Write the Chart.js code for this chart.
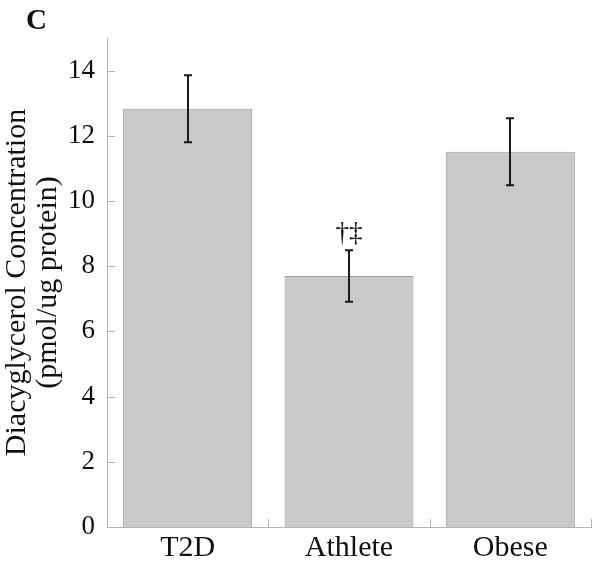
<!DOCTYPE html>
<html>
<head>
<meta charset="utf-8">
<script src="https://cdn.jsdelivr.net/npm/chart.js@4/dist/chart.umd.min.js"></script>
<style>
  html, body { margin: 0; padding: 0; background: #fff; }
</style>
</head>
<body>
<canvas id="chart" width="600" height="566"></canvas>
<script>
// data
const groups = ['T2D', 'Athlete', 'Obese'];
const dagValues = [12.83, 7.70, 11.51];
const dagErrors = [1.03, 0.79, 1.03];
const sigMarks = ['', '†‡', ''];
const yTicks = [0, 2, 4, 6, 8, 10, 12, 14];

const serif = '"Liberation Serif", "Times New Roman", serif';
const axisGray = '#b4b4b4';

// error bars, inner tick marks, significance marks and the panel letter
const extrasPlugin = {
    id: 'extras',
    afterDatasetsDraw(chart) {
        const ctx = chart.ctx;
        const x = chart.scales.x;
        const y = chart.scales.y;
        const area = chart.chartArea;

        ctx.save();

        // inward y ticks
        ctx.strokeStyle = axisGray;
        ctx.lineWidth = 1;
        yTicks.forEach(v => {
            const py = Math.round(y.getPixelForValue(v)) + 0.5;
            ctx.beginPath();
            ctx.moveTo(area.left, py);
            ctx.lineTo(area.left + 8, py);
            ctx.stroke();
        });

        // upward x ticks between categories
        for (let i = 0; i < groups.length; i++) {
            const px = Math.round(x.getPixelForValue(i) + (x.getPixelForValue(1) - x.getPixelForValue(0)) / 2) + 0.5;
            ctx.beginPath();
            ctx.moveTo(px, area.bottom);
            ctx.lineTo(px, area.bottom - 8);
            ctx.stroke();
        }

        // error bars
        ctx.strokeStyle = '#1a1a1a';
        ctx.lineWidth = 2;
        dagValues.forEach((v, i) => {
            const px = Math.round(x.getPixelForValue(i));
            const top = y.getPixelForValue(v + dagErrors[i]);
            const bot = y.getPixelForValue(v - dagErrors[i]);
            ctx.beginPath();
            ctx.moveTo(px, top);
            ctx.lineTo(px, bot);
            ctx.moveTo(px - 4, top);
            ctx.lineTo(px + 4, top);
            ctx.moveTo(px - 4, bot);
            ctx.lineTo(px + 4, bot);
            ctx.stroke();
        });

        // significance marks
        ctx.fillStyle = '#111';
        ctx.font = '27px ' + serif;
        ctx.textAlign = 'center';
        ctx.textBaseline = 'alphabetic';
        sigMarks.forEach((m, i) => {
            if (!m) return;
            const px = x.getPixelForValue(i);
            const top = y.getPixelForValue(dagValues[i] + dagErrors[i]);
            ctx.fillText(m, px, top - 9);
        });

        // panel letter
        ctx.font = 'bold 29px ' + serif;
        ctx.textAlign = 'left';
        ctx.fillText('C', 26, 29);

        ctx.restore();
    }
};

new Chart(document.getElementById('chart'), {
    type: 'bar',
    data: {
        labels: groups,
        datasets: [{
            data: dagValues,
            backgroundColor: '#c9c9c9',
            borderColor: '#9c9c9c',
            borderWidth: 1,
            borderSkipped: 'bottom',
            barPercentage: 0.8,
            categoryPercentage: 1.0
        }]
    },
    options: {
        responsive: false,
        animation: false,
        layout: { padding: { top: 38, right: 9, left: 0, bottom: 0 } },
        plugins: {
            legend: { display: false },
            tooltip: { enabled: false }
        },
        scales: {
            x: {
                grid: { display: false, drawTicks: false },
                border: { display: true, color: axisGray },
                ticks: { font: { family: serif, size: 30 }, color: '#111', padding: 3 },
                afterFit: scale => { scale.height = 39; }
            },
            y: {
                min: 0,
                max: 15,
                afterBuildTicks: scale => { scale.ticks = yTicks.map(v => ({ value: v })); },
                grid: { display: false, drawTicks: false },
                border: { display: true, color: axisGray },
                ticks: { font: { family: serif, size: 27 }, color: '#111', padding: 12 },
                title: {
                    display: true,
                    text: ['Diacyglycerol Concentration', '(pmol/ug protein)'],
                    font: { family: serif, size: 30, lineHeight: 1.03 },
                    color: '#111',
                    padding: { top: 2, bottom: 0 }
                },
                afterFit: scale => { scale.width = 107; }
            }
        }
    },
    plugins: [extrasPlugin]
});
</script>
</body>
</html>
